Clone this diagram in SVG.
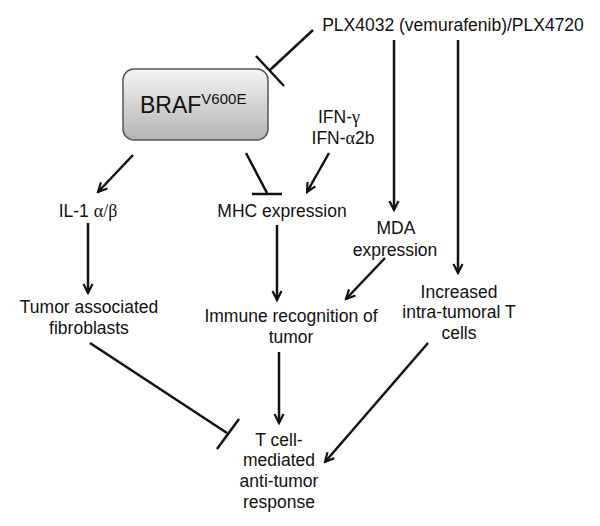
<svg xmlns="http://www.w3.org/2000/svg" width="600" height="526" viewBox="0 0 600 526">
<style>
text{font-family:"Liberation Sans",Arial,sans-serif;font-size:17.5px;fill:#111;text-anchor:middle}
.g{font-family:"Liberation Serif","Times New Roman",serif;font-size:18px}
.c line,.c path{stroke:#111;stroke-width:2.5;fill:none}
</style>
<defs>
<linearGradient id="bg" x1="0" y1="0" x2="0" y2="1">
<stop offset="0" stop-color="#f4f4f4"/>
<stop offset="1" stop-color="#b4b4b4"/>
</linearGradient>
<marker id="ah" viewBox="0 0 12 12" refX="10" refY="6" markerWidth="12" markerHeight="12" markerUnits="userSpaceOnUse" orient="auto">
<path d="M1,1.5 L10,6 L1,10.5" fill="none" stroke="#111" stroke-width="2.2"/>
</marker>
</defs>
<g id="plx"><text x="453" y="31">PLX4032 (vemurafenib)/PLX4720</text></g>
<g id="braf">
<rect x="123" y="69" width="145" height="71" rx="11" fill="url(#bg)" stroke="#555" stroke-width="1.5"/>
<text x="140" y="113" style="text-anchor:start;font-size:23px">BRAF<tspan dy="-9" style="font-size:15px">V600E</tspan></text>
</g>
<g id="ifn"><text x="339" y="123">IFN-<tspan class="g">γ</tspan></text><text x="343" y="144">IFN-<tspan class="g">α</tspan>2b</text></g>
<g id="il1"><text x="88" y="217">IL-1 <tspan class="g">α/β</tspan></text></g>
<g id="mhc"><text x="282" y="217">MHC expression</text></g>
<g id="mda"><text x="396" y="234">MDA</text><text x="395" y="256">expression</text></g>
<g id="taf"><text x="89" y="313">Tumor associated</text><text x="89" y="334">fibroblasts</text></g>
<g id="immune"><text x="291" y="322">Immune recognition of</text><text x="291" y="343">tumor</text></g>
<g id="tcells"><text x="459" y="298">Increased</text><text x="459" y="318">intra-tumoral T</text><text x="459" y="339">cells</text></g>
<g id="response"><text x="279" y="446">T cell-</text><text x="279" y="466">mediated</text><text x="279" y="487">anti-tumor</text><text x="279" y="508">response</text></g>
<g id="connectors" class="c">
<line x1="313" y1="30" x2="270" y2="70"/>
<line x1="256" y1="56" x2="284" y2="86"/>
<line x1="133" y1="155" x2="98" y2="192" marker-end="url(#ah)"/>
<line x1="246" y1="153" x2="267" y2="193"/>
<line x1="252" y1="194" x2="282" y2="194"/>
<line x1="329" y1="153" x2="307" y2="192" marker-end="url(#ah)"/>
<line x1="394" y1="40" x2="394" y2="210" marker-end="url(#ah)"/>
<line x1="458" y1="40" x2="458" y2="273" marker-end="url(#ah)"/>
<line x1="88" y1="223" x2="88" y2="293" marker-end="url(#ah)"/>
<line x1="277" y1="225" x2="277" y2="300" marker-end="url(#ah)"/>
<line x1="385" y1="258" x2="346" y2="299" marker-end="url(#ah)"/>
<line x1="279" y1="352" x2="279" y2="423" marker-end="url(#ah)"/>
<line x1="90" y1="343" x2="227" y2="433"/>
<line x1="239" y1="419" x2="217" y2="449"/>
<line x1="428" y1="343" x2="325" y2="462" marker-end="url(#ah)"/>
</g>
</svg>
